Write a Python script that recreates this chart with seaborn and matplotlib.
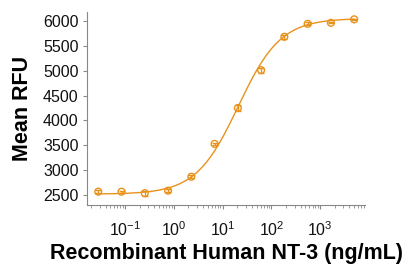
import numpy as np
import pandas as pd
import matplotlib
matplotlib.use("Agg")
import matplotlib.pyplot as plt
import seaborn as sns

conc = [0.0282, 0.0847, 0.254, 0.762, 2.29, 6.86, 20.6, 61.7, 185, 556, 1667, 5000]
rfu = [2570, 2570, 2540, 2590, 2870, 3530, 4250, 5010, 5680, 5940, 5960, 6030]
err = [25, 20, 50, 25, 25, 25, 60, 50, 35, 30, 10, 10]

# 4PL fit parameters
fit_bottom = 2520
fit_top = 6050
fit_ec50 = 21
fit_hill = 1.0

color = "#E8921C"

sns.set_theme(style="ticks")
plt.rcParams['font.family'] = ['Liberation Sans', 'DejaVu Sans']

fig, ax = plt.subplots(figsize=(4.06, 2.64), dpi=100)
fig.subplots_adjust(left=0.214, right=0.9, top=0.955, bottom=0.223)

xs = np.logspace(np.log10(conc[0]), np.log10(conc[-1]), 300)
ys = fit_bottom + (fit_top - fit_bottom) / (1 + (fit_ec50 / xs) ** fit_hill)
curve = pd.DataFrame({"x": xs, "y": ys})
sns.lineplot(data=curve, x="x", y="y", ax=ax, color=color, lw=1.0)

df = pd.DataFrame({"conc": conc, "rfu": rfu})
ax.errorbar(conc, rfu, yerr=err, fmt="none", ecolor=color, elinewidth=1.0, capsize=2.5, capthick=1.0)
sns.scatterplot(data=df, x="conc", y="rfu", ax=ax, marker="o", s=24,
                facecolor="none", edgecolor=color, linewidth=1.0)

ax.set_xscale("log")
ax.set_xlim(0.0165, 8500)
ax.set_ylim(2300, 6180)
ax.set_yticks([2500, 3000, 3500, 4000, 4500, 5000, 5500, 6000])
ax.set_xticks([0.1, 1, 10, 100, 1000])
ax.set_xticklabels(["$\\mathregular{10^{-1}}$", "$\\mathregular{10^{0}}$", "$\\mathregular{10^{1}}$",
                    "$\\mathregular{10^{2}}$", "$\\mathregular{10^{3}}$"])
ax.tick_params(axis="both", labelsize=11.5, labelcolor="#111111", color="#888888", length=3, width=0.8)
ax.tick_params(axis="x", which="minor", length=2, width=0.6, color="#888888")
ax.tick_params(axis="x", pad=8)
ax.tick_params(axis="y", pad=3)
for s in ["left", "bottom"]:
    ax.spines[s].set_color("#888888")
    ax.spines[s].set_linewidth(0.8)
sns.despine(ax=ax)

ax.set_xlabel("Recombinant Human NT-3 (ng/mL)", fontsize=15.5, fontweight="bold", labelpad=3, color="black")
ax.set_ylabel("Mean RFU", fontsize=15.5, fontweight="bold", labelpad=7, color="black")

fig.savefig("out.png", dpi=100)
